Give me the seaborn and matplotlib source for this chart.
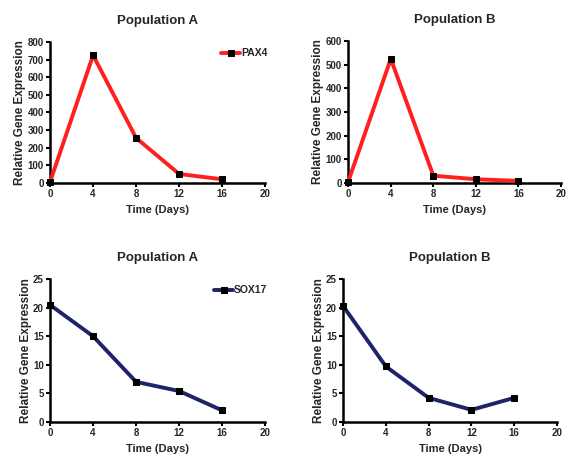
import matplotlib
matplotlib.use("Agg")
import matplotlib.pyplot as plt
import seaborn as sns
import pandas as pd

days = [0, 4, 8, 12, 16]
pax4_pop_a = [5, 725, 255, 50, 20]
pax4_pop_b = [5, 525, 30, 15, 8]
sox17_pop_a = [20.5, 15.0, 7.0, 5.4, 2.0]
sox17_pop_b = [20.3, 9.7, 4.2, 2.1, 4.2]

titles = ["Population A", "Population B", "Population A", "Population B"]
x_ticks = [0, 4, 8, 12, 16, 20]
pax4_a_yticks = [0, 100, 200, 300, 400, 500, 600, 700, 800]
pax4_b_yticks = [0, 100, 200, 300, 400, 500, 600]
sox17_yticks = [0, 5, 10, 15, 20, 25]

sns.set_theme(style="ticks")
plt.rcParams["font.family"] = ["Liberation Sans", "DejaVu Sans"]
plt.rcParams["font.weight"] = "bold"

fig = plt.figure(figsize=(5.69, 4.57), dpi=100)
positions = [
    [0.088, 0.600, 0.378, 0.308],
    [0.612, 0.600, 0.374, 0.310],
    [0.088, 0.077, 0.378, 0.312],
    [0.603, 0.077, 0.376, 0.312],
]
series = [
    ("PAX4", pax4_pop_a, pax4_a_yticks, "#ff1f1f", True),
    ("PAX4", pax4_pop_b, pax4_b_yticks, "#ff1f1f", False),
    ("SOX17", sox17_pop_a, sox17_yticks, "#1d2468", True),
    ("SOX17", sox17_pop_b, sox17_yticks, "#1d2468", False),
]

for pos, title, (gene, vals, yt, col, show_leg) in zip(positions, titles, series):
    ax = fig.add_axes(pos)
    df = pd.DataFrame({"Day": days, "Value": vals, "Gene": gene})
    sns.lineplot(data=df, x="Day", y="Value", ax=ax, color=col, linewidth=2.8,
                 marker="s", markersize=4.5, markerfacecolor="black",
                 markeredgecolor="black", label=gene if show_leg else None,
                 clip_on=False, zorder=3)
    ax.set_xlim(0, 20)
    ax.set_ylim(yt[0], yt[-1])
    ax.set_xticks(x_ticks)
    ax.set_yticks(yt)
    ax.tick_params(axis="both", labelsize=7, width=1.5, length=3, pad=1.5,
                   direction="out", color="black")
    for lab in ax.get_xticklabels() + ax.get_yticklabels():
        lab.set_fontweight("bold")
    for s in ["left", "bottom"]:
        ax.spines[s].set_linewidth(1.8)
        ax.spines[s].set_color("black")
    sns.despine(ax=ax)
    ax.set_xlabel("Time (Days)", fontsize=8, fontweight="bold", labelpad=4)
    ax.set_ylabel("Relative Gene Expression", fontsize=8.5, fontweight="bold", labelpad=1)
    ax.set_title(title, fontsize=9.5, fontweight="bold", pad=13)
    if show_leg:
        leg = ax.legend(loc="upper right", bbox_to_anchor=(1.04, 1.0), frameon=False,
                        fontsize=7.5, handlelength=1.8, handletextpad=0.1,
                        borderaxespad=0.2)
        for t in leg.get_texts():
            t.set_fontweight("bold")
    else:
        if ax.get_legend() is not None:
            ax.get_legend().remove()

fig.savefig("out.png", dpi=100)
